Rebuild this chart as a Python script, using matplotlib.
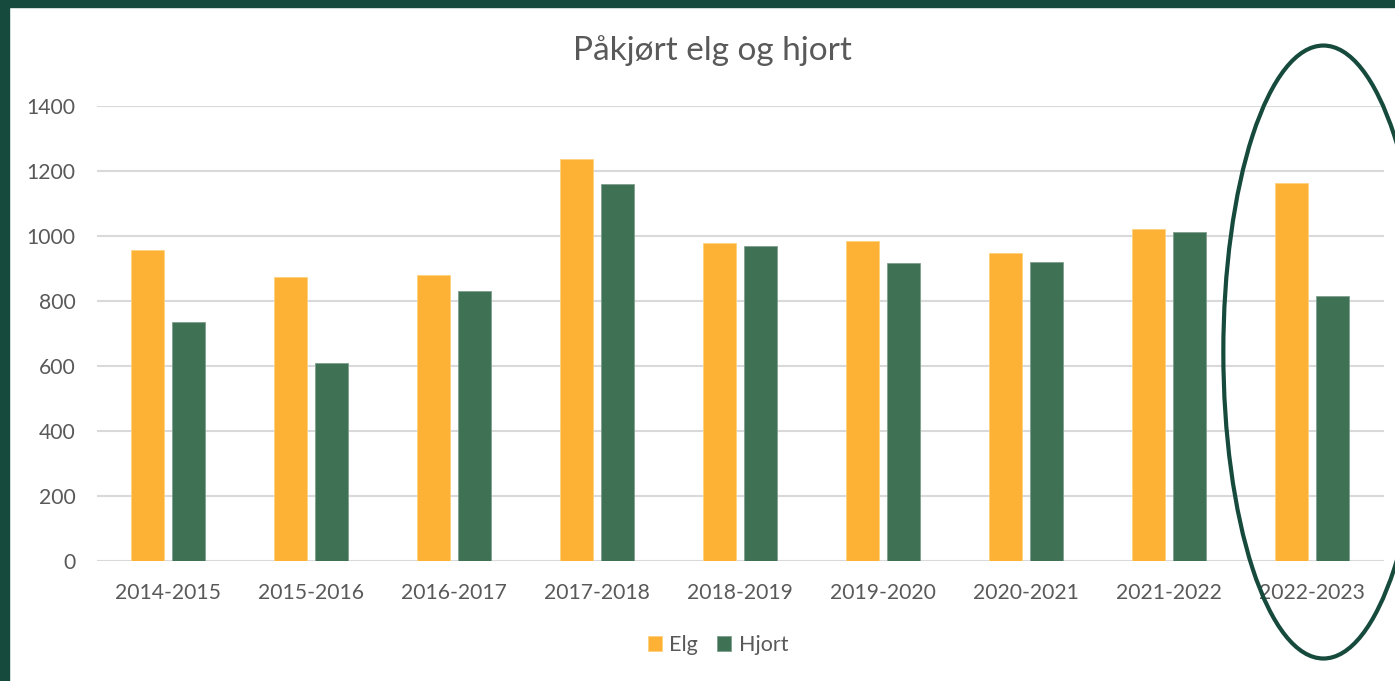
import matplotlib
matplotlib.use("Agg")
import matplotlib.pyplot as plt
import numpy as np
from matplotlib.patches import Ellipse, Rectangle

seasons = ["2014-2015", "2015-2016", "2016-2017", "2017-2018", "2018-2019",
           "2019-2020", "2020-2021", "2021-2022", "2022-2023"]
elg = [957, 873, 881, 1238, 979, 985, 947, 1022, 1163]
hjort = [736, 608, 831, 1160, 969, 916, 919, 1013, 816]

ORANGE = "#FDB135"
GREEN = "#3F7155"
DARK = "#164A3C"
GREY = "#595959"

plt.rcParams["font.family"] = ["Lato", "DejaVu Sans"]

fig = plt.figure(figsize=(13.95, 6.81), dpi=100)
ax = fig.add_axes([96.5 / 1395, 120 / 681, 1287 / 1395, 455 / 681])

x = np.arange(len(seasons))
w = 0.237
off = 0.143
ax.bar(x - off, elg, w, color=ORANGE, edgecolor="#FFD27F", linewidth=0.6, label="Elg", zorder=3)
ax.bar(x + off, hjort, w, color=GREEN, edgecolor="#7FA08E", linewidth=0.6, label="Hjort", zorder=3)

ax.set_xlim(-0.5, len(seasons) - 0.5)
ax.set_ylim(0, 1400)
ax.set_yticks(range(0, 1401, 200))
ax.set_xticks(x)
ax.set_xticklabels(seasons)
ax.yaxis.grid(True, color="#D9D9D9", linewidth=1.5, zorder=0)
ax.set_axisbelow(True)
for s in ax.spines.values():
    s.set_visible(False)
ax.tick_params(length=0, labelsize=15.2, colors=GREY)
ax.tick_params(axis="x", pad=16)
ax.tick_params(axis="y", pad=15)

fig.text(712 / 1395, 1 - 51 / 681, "Påkjørt elg og hjort", ha="center", va="center",
         fontsize=24, color=GREY)

leg = fig.legend(loc="center", bbox_to_anchor=(718 / 1395, 1 - 645 / 681), ncol=2,
                 frameon=False, fontsize=15.5, handlelength=0.65, handleheight=0.65,
                 handletextpad=0.35, columnspacing=0.9)
for t in leg.get_texts():
    t.set_color(GREY)

# highlight ring around the latest season
last = len(seasons) - 1
ax.add_patch(Ellipse((last + 0.08, 643), 1.40, 1886, fill=False, edgecolor=DARK,
                     linewidth=3, clip_on=False, zorder=5))

# dark frame along top and left edge
fig.patches.append(Rectangle((0, 0), 9 / 1395, 1, transform=fig.transFigure,
                             color=DARK, zorder=10))
fig.patches.append(Rectangle((0, 1 - 7 / 681), 1, 7 / 681, transform=fig.transFigure,
                             color=DARK, zorder=10))

fig.savefig("out.png", dpi=100)
